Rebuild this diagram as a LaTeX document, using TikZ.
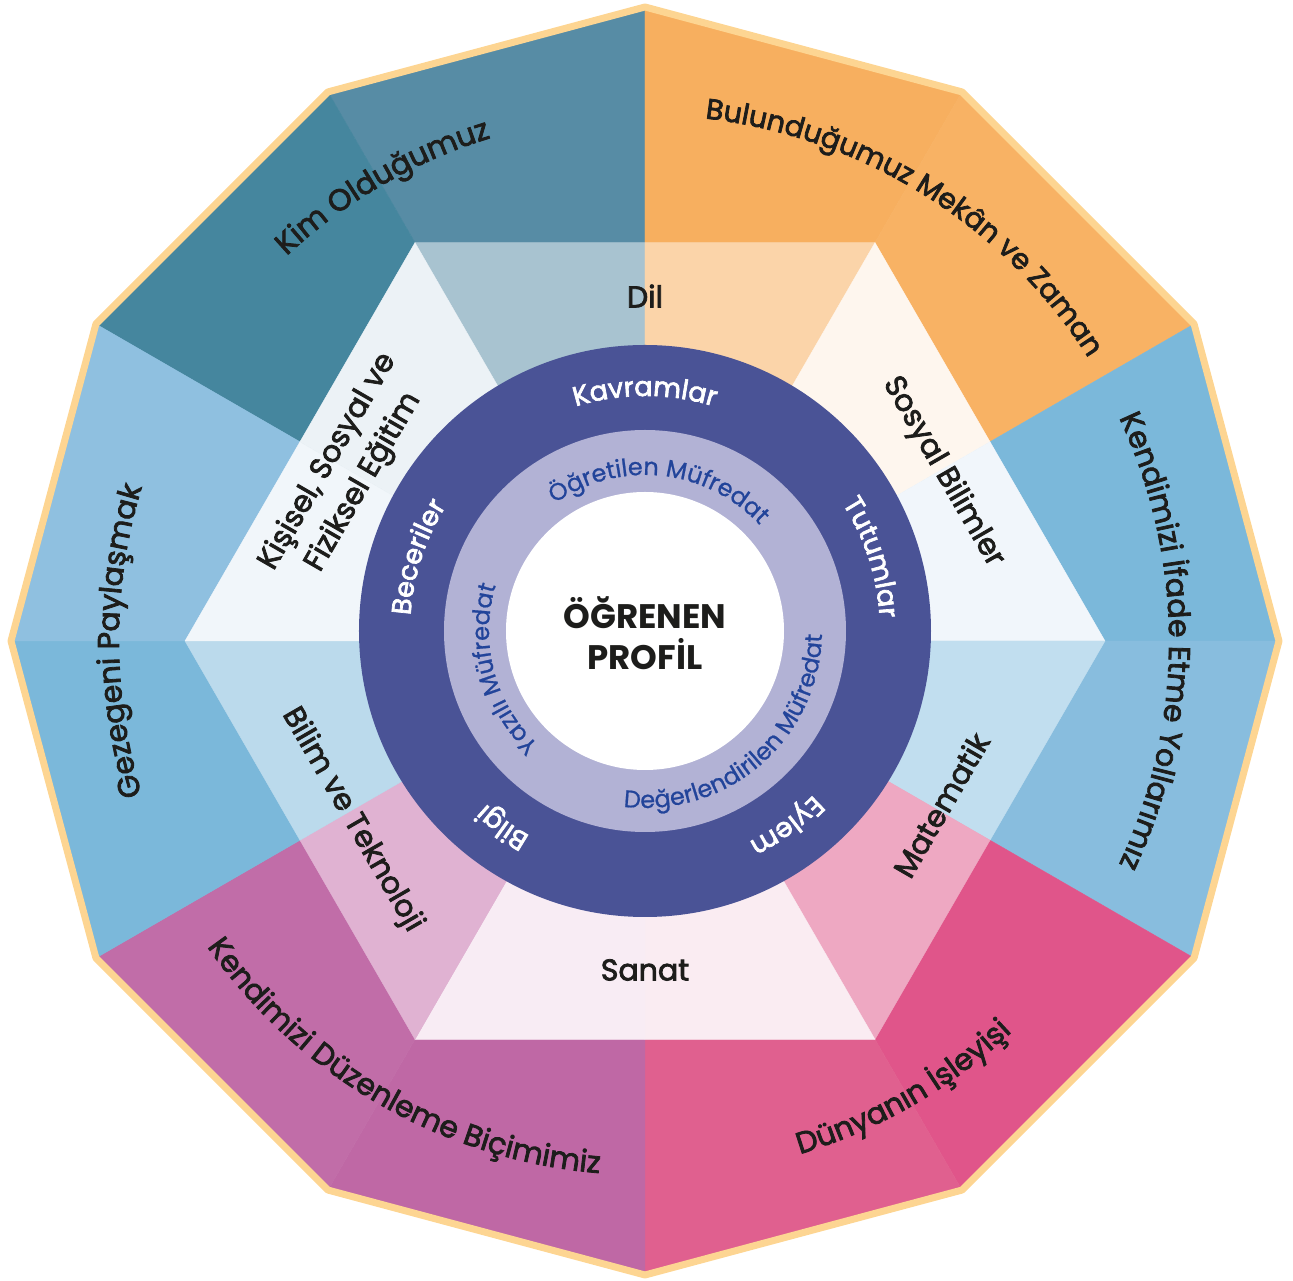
\documentclass[tikz,border=0pt]{standalone}
\usepackage{fontspec}
\setmainfont{Poppins}
\newfontfamily\medfont{Poppins}[FakeBold=2.6]
\newfontfamily\lightfont{Poppins}[FakeBold=0.8]
\usetikzlibrary{decorations.text}
\definecolor{oA}{HTML}{578CA5}
\definecolor{oB}{HTML}{45869E}
\definecolor{oC}{HTML}{F7AF5F}
\definecolor{oD}{HTML}{F8B264}
\definecolor{oE}{HTML}{7BB8DA}
\definecolor{oF}{HTML}{88BDDE}
\definecolor{oG}{HTML}{E0558A}
\definecolor{oH}{HTML}{E0608F}
\definecolor{oI}{HTML}{BF68A5}
\definecolor{oJ}{HTML}{C16DA8}
\definecolor{oK}{HTML}{7BB8DA}
\definecolor{oL}{HTML}{8FC0E0}
\definecolor{hA}{HTML}{A8C3D0}
\definecolor{hB}{HTML}{FBD4A9}
\definecolor{hC}{HTML}{FEF6EE}
\definecolor{hD}{HTML}{F1F6FB}
\definecolor{hE}{HTML}{C1DEEF}
\definecolor{hF}{HTML}{EEA8C2}
\definecolor{hG}{HTML}{FAECF2}
\definecolor{hH}{HTML}{F8ECF4}
\definecolor{hI}{HTML}{E0B2D2}
\definecolor{hJ}{HTML}{BBDAEC}
\definecolor{hK}{HTML}{F1F6FA}
\definecolor{hL}{HTML}{ECF2F6}
\definecolor{ringdark}{HTML}{4A5396}
\definecolor{ringlight}{HTML}{B2B2D5}
\definecolor{rimcol}{HTML}{FDD592}
\definecolor{inktext}{HTML}{1D1D1B}
\definecolor{bluetext}{HTML}{22449A}
\tikzset{
  hexlabel/.style={font=\medfont\fontsize{30}{38}\selectfont, text=inktext, inner sep=0pt},
  centerlabel/.style={font=\bfseries\fontsize{34}{41}\selectfont, text=inktext, align=center, inner sep=0pt},
}
\newcommand\themefmt{|\medfont\fontsize{30}{30}\selectfont\color{inktext}|}
\newcommand\themefmtb{|\medfont\fontsize{28.5}{28.5}\selectfont\color{inktext}|}
\newcommand\ringfmt{|\medfont\fontsize{27}{27}\selectfont\color{white}|}
\newcommand\innerfmt{|\lightfont\fontsize{24}{24}\selectfont\color{bluetext}|}
\begin{document}
\begin{tikzpicture}[x=1pt,y=1pt]
\useasboundingbox (-645,-640) rectangle (648,641);
% outer dodecagon sectors
\foreach \a/\c in {90/oA,120/oB,60/oC,30/oD,0/oE,-30/oF,-60/oG,-90/oH,-120/oI,-150/oJ,180/oK,150/oL}
  \fill[\c, draw=\c, line width=0.4] (0,0) -- (\a:634) -- (\a+30:634) -- cycle;
% hexagon sectors
\foreach \a/\ra/\rb/\c in {90/398.4/460/hA,60/460/398.4/hB,30/398.4/460/hC,0/460/398.4/hD,-30/398.4/460/hE,-60/460/398.4/hF,-90/398.4/460/hG,-120/460/398.4/hH,-150/398.4/460/hI,180/460/398.4/hJ,150/398.4/460/hK,120/460/398.4/hL}
  \fill[\c, draw=\c, line width=0.4] (0,0) -- (\a:\ra) -- (\a+30:\rb) -- cycle;
% rim
\draw[rimcol, line width=7, line join=round] (0:634) -- (30:634) -- (60:634) -- (90:634) -- (120:634) -- (150:634) -- (180:634) -- (210:634) -- (240:634) -- (270:634) -- (300:634) -- (330:634) -- cycle;
% circles
\fill[ringdark] (0,10) circle[radius=286];
\fill[ringlight] (0,10) circle[radius=201];
\fill[white] (0,10) circle[radius=139];
\node[centerlabel] (profil) at (0,8) {ÖĞRENEN\\PROFİL};
% hexagon labels
\node[hexlabel] (dil) at (0,345) {Dil};
\node[hexlabel] (sanat) at (0,-329) {Sanat};
\node[hexlabel, rotate=-60] (sosyal) at (298,169) {Sosyal Bilimler};
\node[hexlabel, rotate=60] (matematik) at (296,-164) {Matematik};
\node[hexlabel, rotate=-60] (bilim) at (-293,-179) {Bilim ve Teknoloji};
\node[hexlabel, rotate=60, align=center, font=\medfont\fontsize{30}{41}\selectfont] (kisisel) at (-299,169) {Kişisel, Sosyal ve\\Fiziksel Eğitim};
% theme labels (clockwise, letters outward)
\path[decorate, decoration={text along path, text align=center, text={\themefmt Kim Olduğumuz}}] (180:526) arc[start angle=180, end angle=60, radius=526];
\path[decorate, decoration={text along path, text align=center, text={\themefmtb Bulunduğumuz Mekân ve Zaman}}] (118:526) arc[start angle=118, end angle=-2, radius=526];
\path[decorate, decoration={text along path, text align=center, text={\themefmt Kendimizi İfade Etme Yollarımız}}] (60:524) arc[start angle=60, end angle=-60, radius=524];
\path[decorate, decoration={text along path, text align=center, text={\themefmt Gezegeni Paylaşmak}}] (240:526) arc[start angle=240, end angle=120, radius=526];
% theme labels (counter-clockwise, letters inward)
\path[decorate, decoration={text along path, text align=center, text={\themefmt Dünyanın İşleyişi}}] (-120:536) arc[start angle=-120, end angle=0, radius=536];
\path[decorate, decoration={text along path, text align=center, text={\themefmt Kendimizi Düzenleme Biçimimiz}}] (180:534) arc[start angle=180, end angle=300, radius=534];
% ring labels
\begin{scope}[shift={(0,10)}]
\path[decorate, decoration={text along path, text align=center, text={\ringfmt Kavramlar}}] (130:235) arc[start angle=130, end angle=50, radius=235];
\path[decorate, decoration={text along path, text align=center, text={\ringfmt Tutumlar}}] (58:235) arc[start angle=58, end angle=-22, radius=235];
\path[decorate, decoration={text along path, text align=center, text={\ringfmt Eylem}}] (-14:235) arc[start angle=-14, end angle=-94, radius=235];
\path[decorate, decoration={text along path, text align=center, text={\ringfmt Bilgi}}] (-86:235) arc[start angle=-86, end angle=-166, radius=235];
\path[decorate, decoration={text along path, text align=center, text={\ringfmt Beceriler}}] (202:235) arc[start angle=202, end angle=122, radius=235];
% inner ring labels
\path[decorate, decoration={text along path, text align=center, text={\innerfmt Öğretilen Müfredat}}] (154:156) arc[start angle=154, end angle=14, radius=156];
\path[decorate, decoration={text along path, text align=center, text={\innerfmt Yazılı Müfredat}}] (265:156) arc[start angle=265, end angle=125, radius=156];
\path[decorate, decoration={text along path, text align=center, text={\innerfmt Değerlendirilen Müfredat}}] (-124:177) arc[start angle=-124, end angle=26, radius=177];
\end{scope}
\end{tikzpicture}
\end{document}
